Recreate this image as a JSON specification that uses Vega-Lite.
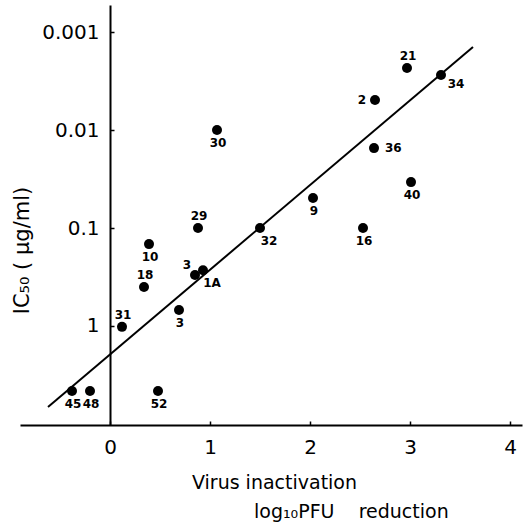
{
  "$schema": "https://vega.github.io/schema/vega-lite/v6.json",
  "width": 502,
  "height": 420,
  "autosize": {"type": "none"},
  "padding": {"left": 20, "top": 5, "right": 2, "bottom": 104},
  "background": "white",
  "config": {
    "view": {"stroke": null},
    "font": "DejaVu Sans",
    "text": {"font": "DejaVu Sans"}
  },
  "title": {
    "text": "log₁₀PFU\u00a0\u00a0\u00a0 reduction",
    "orient": "bottom",
    "anchor": "start",
    "dx": 243,
    "offset": 11,
    "fontSize": 19,
    "fontWeight": "normal",
    "color": "black"
  },
  "datasets": {
    "drugs": [
      {"id": "30", "x": 1.07, "ic50": 0.01, "side": "below"},
      {"id": "29", "x": 0.88, "ic50": 0.1, "side": "above"},
      {"id": "10", "x": 0.39, "ic50": 0.146, "side": "below"},
      {"id": "32", "x": 1.5, "ic50": 0.1, "side": "belowright"},
      {"id": "21", "x": 2.97, "ic50": 0.00233, "side": "above"},
      {"id": "34", "x": 3.31, "ic50": 0.00275, "side": "right34"},
      {"id": "2", "x": 2.65, "ic50": 0.00494, "side": "left"},
      {"id": "36", "x": 2.64, "ic50": 0.0153, "side": "right"},
      {"id": "40", "x": 3.01, "ic50": 0.034, "side": "below"},
      {"id": "9", "x": 2.03, "ic50": 0.0494, "side": "below"},
      {"id": "16", "x": 2.53, "ic50": 0.1, "side": "below"},
      {"id": "3", "x": 0.85, "ic50": 0.302, "side": "aboveleft"},
      {"id": "1A", "x": 0.93, "ic50": 0.27, "side": "belowright"},
      {"id": "18", "x": 0.34, "ic50": 0.4, "side": "above"},
      {"id": "3", "x": 0.69, "ic50": 0.687, "side": "below"},
      {"id": "31", "x": 0.12, "ic50": 1.02, "side": "above"},
      {"id": "45", "x": -0.38, "ic50": 4.6, "side": "below"},
      {"id": "48", "x": -0.2, "ic50": 4.6, "side": "below"},
      {"id": "52", "x": 0.48, "ic50": 4.6, "side": "below"}
    ],
    "fit": [
      {"x": -0.62, "ic50": 6.71},
      {"x": 3.63, "ic50": 0.00142}
    ]
  },
  "encoding": {
    "x": {
      "field": "x",
      "type": "quantitative",
      "scale": {"domain": [-0.9, 4.12], "nice": false, "zero": false},
      "axis": {
        "values": [0, 1, 2, 3, 4],
        "grid": false,
        "domainColor": "black",
        "domainWidth": 2,
        "tickColor": "black",
        "tickWidth": 1.5,
        "tickSize": -4,
        "labelFontSize": 20,
        "labelColor": "black",
        "labelPadding": 16,
        "title": "Virus inactivation",
        "titleFontSize": 19,
        "titleFontWeight": "normal",
        "titleColor": "black",
        "titleX": 254,
        "titleY": 57,
        "titleAlign": "center",
        "titleBaseline": "middle"
      }
    },
    "y": {
      "field": "ic50",
      "type": "quantitative",
      "scale": {"type": "log", "domain": [0.00053, 10.24], "nice": false, "reverse": true},
      "axis": {
        "values": [0.001, 0.01, 0.1, 1],
        "labelExpr": "datum.value < 0.005 ? '0.001' : datum.value < 0.05 ? '0.01' : datum.value < 0.5 ? '0.1' : '1'",
        "offset": -90,
        "grid": false,
        "domainColor": "black",
        "domainWidth": 2,
        "tickColor": "black",
        "tickWidth": 1.5,
        "tickSize": -4,
        "labelFontSize": 20,
        "labelColor": "black",
        "labelPadding": 15,
        "title": "IC₅₀ ( µg/ml)",
        "titleFontSize": 21,
        "titleFontWeight": "normal",
        "titleColor": "black",
        "titleAngle": -90,
        "titleX": -88,
        "titleY": 245,
        "titleAlign": "center",
        "titleBaseline": "middle"
      }
    }
  },
  "layer": [
    {
      "data": {"name": "fit"},
      "mark": {"type": "line", "color": "black", "strokeWidth": 2}
    },
    {
      "data": {"name": "drugs"},
      "mark": {"type": "point", "filled": true, "size": 100, "color": "black", "opacity": 1}
    },
    {
      "data": {"name": "drugs"},
      "transform": [{"filter": "datum.side == 'below'"}],
      "mark": {"type": "text", "fontSize": 12, "fontWeight": "bold", "color": "black", "dx": 1, "dy": 13},
      "encoding": {"text": {"field": "id"}}
    },
    {
      "data": {"name": "drugs"},
      "transform": [{"filter": "datum.side == 'above'"}],
      "mark": {"type": "text", "fontSize": 12, "fontWeight": "bold", "color": "black", "dx": 1, "dy": -12},
      "encoding": {"text": {"field": "id"}}
    },
    {
      "data": {"name": "drugs"},
      "transform": [{"filter": "datum.side == 'left'"}],
      "mark": {"type": "text", "fontSize": 12, "fontWeight": "bold", "color": "black", "align": "right", "dx": -9, "dy": 0},
      "encoding": {"text": {"field": "id"}}
    },
    {
      "data": {"name": "drugs"},
      "transform": [{"filter": "datum.side == 'right'"}],
      "mark": {"type": "text", "fontSize": 12, "fontWeight": "bold", "color": "black", "align": "left", "dx": 11, "dy": 0},
      "encoding": {"text": {"field": "id"}}
    },
    {
      "data": {"name": "drugs"},
      "transform": [{"filter": "datum.side == 'right34'"}],
      "mark": {"type": "text", "fontSize": 12, "fontWeight": "bold", "color": "black", "dx": 15, "dy": 9},
      "encoding": {"text": {"field": "id"}}
    },
    {
      "data": {"name": "drugs"},
      "transform": [{"filter": "datum.side == 'belowright'"}],
      "mark": {"type": "text", "fontSize": 12, "fontWeight": "bold", "color": "black", "dx": 9, "dy": 13},
      "encoding": {"text": {"field": "id"}}
    },
    {
      "data": {"name": "drugs"},
      "transform": [{"filter": "datum.side == 'aboveleft'"}],
      "mark": {"type": "text", "fontSize": 12, "fontWeight": "bold", "color": "black", "dx": -8, "dy": -10},
      "encoding": {"text": {"field": "id"}}
    }
  ]
}
